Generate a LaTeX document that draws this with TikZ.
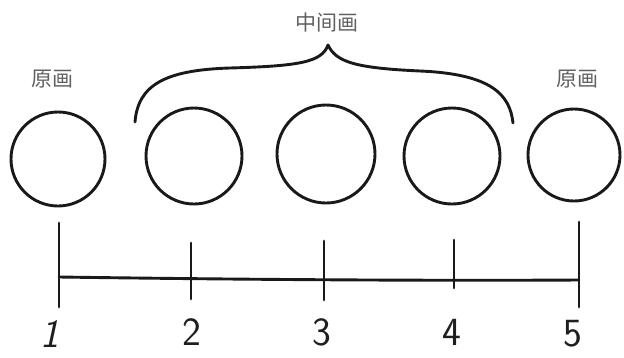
\documentclass[tikz,border=0pt]{standalone}
\usepackage{fontspec}
\newfontfamily\cjk{Noto Sans CJK SC}
\begin{document}
\begin{tikzpicture}[x=1pt,y=-1pt,
  ink/.style={line width=2.9pt,draw=black!90,line cap=round,line join=round},
  frame/.style={circle,ink,inner sep=0pt,outer sep=0pt},
  cjklabel/.style={font=\cjk\fontsize{21}{21}\selectfont,text=black!62,inner sep=0pt},
  numlabel/.style={font=\sffamily\fontsize{40}{40}\selectfont,text=black!88,inner sep=0pt},
]
\useasboundingbox (0,0) rectangle (624,357);
% circles (key frames and in-betweens)
\node[frame,minimum size=94pt] (c1) at (58,159) {};
\node[frame,minimum size=96pt] (c2) at (194,156) {};
\node[frame,minimum size=98pt] (c3) at (326,154) {};
\node[frame,minimum size=96pt] (c4) at (452,156) {};
\node[frame,minimum size=92pt] (c5) at (574,155) {};
% labels
\node[cjklabel] (k1) at (52,79) {原画};
\node[cjklabel] (k2) at (577,79) {原画};
\node[cjklabel] (mid) at (327,23) {中间画};
% brace
\coordinate (bl) at (135,122);
\coordinate (bt) at (328,45);
\coordinate (br) at (513,123);
\draw[ink] (bl) .. controls (138,85) and (165,70) .. (230,68)
  .. controls (300,66) and (322,62) .. (bt)
  .. controls (336,62) and (355,68) .. (420,71)
  .. controls (492,74) and (510,95) .. (br);
% timeline
\coordinate (t1a) at (59,223); \coordinate (t1b) at (59,307);
\coordinate (t2a) at (191,243); \coordinate (t2b) at (191,299);
\coordinate (t3a) at (324,241); \coordinate (t3b) at (324,300);
\coordinate (t4a) at (454,240); \coordinate (t4b) at (454,288);
\coordinate (t5a) at (579,222); \coordinate (t5b) at (579,307);
\coordinate (l1) at (59,277); \coordinate (l5) at (579,280);
\draw[ink] (l1) .. controls (200,279) and (400,281) .. (l5);
\foreach \i in {1,...,5} {\draw[ink] (t\i a) -- (t\i b);}
% numbers
\node[numlabel] (n1) at (50,334) {\itshape 1};
\node[numlabel] (n2) at (192,332) {2};
\node[numlabel] (n3) at (322,332) {3};
\node[numlabel] (n4) at (452,332) {4};
\node[numlabel] (n5) at (573,334) {5};
\end{tikzpicture}
\end{document}
